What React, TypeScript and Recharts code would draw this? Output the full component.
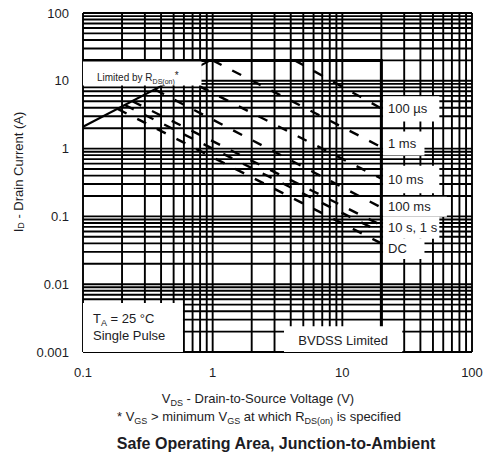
import React from 'react';
import { LineChart, Line, XAxis, YAxis, CartesianGrid, ReferenceArea } from 'recharts';

// axis decades
const xTicks = [0.1, 1, 10, 100];
const yTicks = [0.001, 0.01, 0.1, 1, 10, 100];

// limit lines (V, A)
const rdsLimit = [
  { v: 0.1, i: 2.1 },
  { v: 0.96, i: 20 },
];
const bvdssLimit = [
  { v: 0.1, i: 20 },
  { v: 20, i: 20 },
  { v: 20, i: 0.001 },
];

// single pulse curves
const pulse100us = [
  { v: 4.3, i: 20 },
  { v: 20, i: 3.9 },
];
const pulse1ms = [
  { v: 1.0, i: 20 },
  { v: 20, i: 1.05 },
];
const pulse10ms = [
  { v: 0.56, i: 11.6 },
  { v: 20, i: 0.36 },
];
const pulse100ms = [
  { v: 0.36, i: 7.4 },
  { v: 20, i: 0.135 },
];
const pulse1s = [
  { v: 0.24, i: 5.0 },
  { v: 20, i: 0.074 },
];
const pulse10s = [
  { v: 0.21, i: 4.4 },
  { v: 20, i: 0.058 },
];
const pulseDC = [
  { v: 0.185, i: 3.85 },
  { v: 20, i: 0.04 },
];

const pulseCurves = [pulse100us, pulse1ms, pulse10ms, pulse100ms, pulse1s, pulse10s, pulseDC];

// curve names printed beside the 20 V limit
const curveLabels = ['100 µs', '1 ms', '10 ms', '100 ms', '10 s, 1 s', 'DC'];

const FONT = '"Liberation Sans", Arial, Helvetica, sans-serif';
const INK = '#1c1c24';

// 1..9 subdivisions of each decade, for the log grid
const logGrid = (ticks: number[]) => {
  const out: number[] = [];
  ticks.slice(0, -1).forEach(d => {
    for (let k = 1; k < 10; k++) out.push(+(k * d).toPrecision(3));
  });
  out.push(ticks[ticks.length - 1]);
  return out;
};
const xGrid = logGrid(xTicks);
const yGrid = logGrid(yTicks);

const applyScale = (axis: any, v: number) => {
  const s = axis?.scale;
  if (!s) return NaN;
  return typeof s === 'function' ? s(v) : s.map(v);
};

// white boxes behind the curve names
const labelBoxes = [
  { x1: 20.6, x2: 56, y1: 2.5, y2: 5.9 },
  { x1: 20.6, x2: 43, y1: 0.79, y2: 1.78 },
  { x1: 20.6, x2: 56, y1: 0.22, y2: 0.56 },
  { x1: 20.6, x2: 64, y1: 0.0986, y2: 0.195 },
  { x1: 20.6, x2: 56, y1: 0.0467, y2: 0.0986 },
  { x1: 20.6, x2: 43, y1: 0.0236, y2: 0.0467 },
];

const SideLabel = ({ viewBox, text }: any) => {
  if (!viewBox) return null;
  const { x, y, height } = viewBox;
  return (
    <text x={x + 5} y={y + height / 2} dominantBaseline="central" fontSize={13} fontFamily={FONT} fill={INK}>
      {text}
    </text>
  );
};

const RdsLabel = ({ viewBox }: any) => {
  if (!viewBox) return null;
  const { x, y } = viewBox;
  return (
    <text x={x + 14} y={y + 19} fontSize={10} fontFamily={FONT} fill={INK}>
      Limited by R
      <tspan fontSize={7} dy={3}>DS(on)</tspan>
      <tspan dy={-5}>*</tspan>
    </text>
  );
};

const PulseNote = ({ viewBox }: any) => {
  if (!viewBox) return null;
  const { x, y } = viewBox;
  return (
    <text fontSize={13} fontFamily={FONT} fill={INK}>
      <tspan x={x + 10} y={y + 20}>T</tspan>
      <tspan fontSize={9} dy={3}>A</tspan>
      <tspan dy={-3}> = 25 °C</tspan>
      <tspan x={x + 10} y={y + 37}>Single Pulse</tspan>
    </text>
  );
};

const BvdssNote = ({ viewBox }: any) => {
  if (!viewBox) return null;
  const { x, y, width } = viewBox;
  return (
    <text x={x + width / 2} y={y + 14} textAnchor="middle" dominantBaseline="central" fontSize={13} fontFamily={FONT} fill={INK}>
      BVDSS Limited
    </text>
  );
};

const App: React.FC = () => {
  return (
    <div style={{ position: 'absolute', left: 0, top: 0, width: 487, height: 460, background: '#fff' }}>
      <LineChart width={487} height={460} margin={{ top: 13, right: 15, bottom: 78, left: 0 }}>
        <CartesianGrid
          stroke="#000"
          strokeWidth={1.9}
          verticalCoordinatesGenerator={({ xAxis }: any) => xGrid.map(v => applyScale(xAxis, v))}
          horizontalCoordinatesGenerator={({ yAxis }: any) => yGrid.map(v => applyScale(yAxis, v))}
        />
        <XAxis
          type="number"
          dataKey="v"
          scale="log"
          domain={[0.1, 100]}
          ticks={xTicks}
          allowDataOverflow
          axisLine={false}
          tickLine={false}
          tickSize={0}
          tickMargin={16}
          height={30}
          interval={0}
          tick={{ fontSize: 13, fontFamily: FONT, fill: INK }}
        />
        <YAxis
          type="number"
          dataKey="i"
          scale="log"
          domain={[0.001, 100]}
          ticks={yTicks}
          allowDataOverflow
          axisLine={false}
          tickLine={false}
          tickSize={0}
          tickMargin={14}
          width={83}
          interval={0}
          tick={{ fontSize: 13, fontFamily: FONT, fill: INK }}
        />

        {labelBoxes.map((b, k) => (
          <ReferenceArea
            key={k}
            x1={b.x1}
            x2={b.x2}
            y1={b.y1}
            y2={b.y2}
            fill="#fff"
            fillOpacity={1}
            stroke="none"
            label={<SideLabel text={curveLabels[k]} />}
          />
        ))}
        <ReferenceArea x1={0.1} x2={0.59} y1={0.001} y2={0.0053} fill="#fff" fillOpacity={1} stroke="none" label={<PulseNote />} />

        <Line data={rdsLimit} dataKey="i" stroke="#000" strokeWidth={2.2} dot={false} activeDot={false} isAnimationActive={false} />
        <Line data={bvdssLimit} dataKey="i" stroke="#000" strokeWidth={3} dot={false} activeDot={false} isAnimationActive={false} />
        {pulseCurves.map((d, k) => (
          <Line
            key={k}
            data={d}
            dataKey="i"
            stroke="#000"
            strokeWidth={2.4}
            strokeDasharray="10 12"
            dot={false}
            activeDot={false}
            isAnimationActive={false}
          />
        ))}

        <ReferenceArea
          x1={0.1}
          x2={0.82}
          y1={8.5}
          y2={19.2}
          fill="#fff"
          fillOpacity={1}
          stroke="none"
          zIndex={450}
          label={<RdsLabel />}
        />
        <ReferenceArea
          x1={3.55}
          x2={29}
          y1={0.001}
          y2={0.0024}
          fill="#fff"
          fillOpacity={1}
          stroke="none"
          zIndex={450}
          label={<BvdssNote />}
        />
      </LineChart>

      <svg width={487} height={460} style={{ position: 'absolute', left: 0, top: 0, pointerEvents: 'none' }}>
        <text
          transform="translate(18 172) rotate(-90)"
          textAnchor="middle"
          dominantBaseline="central"
          fontSize={13}
          fontFamily={FONT}
          fill={INK}
        >
          I<tspan fontSize={9} dy={3}>D</tspan>
          <tspan dy={-3}> - Drain Current (A)</tspan>
        </text>
        <text x={258} y={403} textAnchor="middle" fontSize={13} fontFamily={FONT} fill={INK}>
          V<tspan fontSize={9} dy={3}>DS</tspan>
          <tspan dy={-3}> - Drain-to-Source Voltage (V)</tspan>
        </text>
        <text x={259} y={421} textAnchor="middle" fontSize={13} fontFamily={FONT} fill={INK}>
          * V<tspan fontSize={9} dy={3}>GS</tspan>
          <tspan dy={-3}> &gt; minimum V</tspan>
          <tspan fontSize={9} dy={3}>GS</tspan>
          <tspan dy={-3}> at which R</tspan>
          <tspan fontSize={9} dy={3}>DS(on)</tspan>
          <tspan dy={-3}> is specified</tspan>
        </text>
        <text x={276} y={449} textAnchor="middle" fontSize={16} fontWeight="bold" fontFamily={FONT} fill={INK}>
          Safe Operating Area, Junction-to-Ambient
        </text>
      </svg>
    </div>
  );
};

export default App;
